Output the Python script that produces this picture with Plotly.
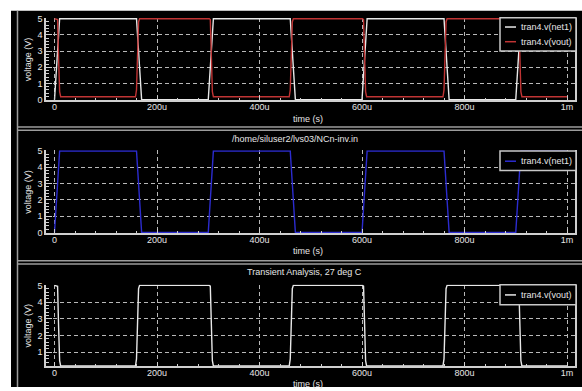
import numpy as np
import plotly.graph_objects as go
from plotly.subplots import make_subplots

# ---------------- data (time in microseconds, voltage in V) ----------------
net1_t_us = [0, 10, 160, 170, 300, 310, 460, 470, 600, 610, 760, 770, 900, 910, 1000]
net1_v = [0, 5, 5, 0, 0, 5, 5, 0, 0, 5, 5, 0, 0, 5, 5]

vout_t_us = [0, 6, 8, 10, 12,
             158, 160, 162, 164, 166,
             302, 304, 306, 308, 310,
             458, 460, 462, 464, 466,
             601, 603, 605, 607, 609,
             758, 760, 762, 764, 766,
             904, 906, 908, 910, 912, 1000]
vout_v = [5, 4.95, 2.5, 0.5, 0.18,
          0.18, 0.6, 2.6, 4.8, 5,
          5, 4.95, 2.5, 0.5, 0.18,
          0.18, 0.6, 2.6, 4.8, 5,
          5, 4.95, 2.5, 0.5, 0.18,
          0.18, 0.6, 2.6, 4.8, 5,
          5, 4.95, 2.5, 0.5, 0.18, 0.18]

x_tick_us = [0, 200, 400, 600, 800, 1000]
x_tick_text = ["0", "200u", "400u", "600u", "800u", "1m"]
x_minor_us = list(range(0, 1001, 40))
y_ticks_full = [0, 1, 2, 3, 4, 5]
y_ticks_p3 = [1, 2, 3, 4, 5]

series_names = ["tran4.v(net1)", "tran4.v(vout)"]
panel_titles = ["", "/home/siluser2/lvs03/NCn-inv.in", "Transient Analysis, 27 deg C"]
x_title = "time (s)"
y_title = "voltage (V)"

# ---------------- layout helpers ----------------
W, H = 582, 391
def fx(px):
    return px / W
def fy(py):
    return 1 - py / H

FONT = "Liberation Sans, Arial, sans-serif"
TXT = "#e6e6e6"
AXC = "#cfcfcf"
GRIDC = "#b8b8b8"
FRAME = "#9c9c9c"
WHITE_LINE = "#e8e8e8"
RED = "#c03434"
BLUE = "#2c2cd0"

net1_t = np.array(net1_t_us) * 1e-6
vout_t = np.array(vout_t_us) * 1e-6

fig = make_subplots(rows=3, cols=1)

fig.add_trace(go.Scatter(x=net1_t, y=net1_v, mode="lines", name=series_names[0],
                         line=dict(color=WHITE_LINE, width=1.4), showlegend=False), row=1, col=1)
fig.add_trace(go.Scatter(x=vout_t, y=vout_v, mode="lines", name=series_names[1],
                         line=dict(color=RED, width=1.4), showlegend=False), row=1, col=1)
fig.add_trace(go.Scatter(x=net1_t, y=net1_v, mode="lines", name=series_names[0],
                         line=dict(color=BLUE, width=1.4), showlegend=False), row=2, col=1)
fig.add_trace(go.Scatter(x=vout_t, y=vout_v, mode="lines", name=series_names[1],
                         line=dict(color=WHITE_LINE, width=1.4), showlegend=False), row=3, col=1)

xdom = [fx(46), fx(575)]
ydoms = [(14.2, 98.5), (149.2, 234.1), (286.4, 370.0)]
yranges = [[-0.05, 5.05], [-0.05, 5.05], [0.15, 5.05]]
yticks = [y_ticks_full, y_ticks_full, y_ticks_p3]
xrange_ = [-16.6e-6, 1015.6e-6]

for i in range(3):
    xa = "xaxis" if i == 0 else f"xaxis{i+1}"
    ya = "yaxis" if i == 0 else f"yaxis{i+1}"
    top, bot = ydoms[i]
    fig.update_layout({
        xa: dict(domain=xdom, range=xrange_, tickmode="array",
                 tickvals=[v * 1e-6 for v in x_tick_us], ticktext=x_tick_text,
                 ticks="inside", ticklen=5, tickwidth=1, tickcolor=AXC,
                 showline=True, linecolor=AXC, linewidth=1.5, mirror=False,
                 showgrid=True, gridcolor=GRIDC, gridwidth=1, griddash="4px,3px",
                 zeroline=False, ticklabelstandoff=-3,
                 tickfont=dict(family=FONT, size=9, color=TXT),
                 minor=dict(tickmode="array", tickvals=[v * 1e-6 for v in x_minor_us],
                            ticks="inside", ticklen=3, tickcolor=AXC, showgrid=False)),
        ya: dict(domain=[fy(bot), fy(top)], range=yranges[i], tickmode="array",
                 tickvals=yticks[i], ticktext=[str(v) for v in yticks[i]],
                 ticks="inside", ticklen=6, tickwidth=1, tickcolor=AXC,
                 showline=True, linecolor=AXC, linewidth=1.5, mirror=True,
                 showgrid=True, gridcolor=GRIDC, gridwidth=1, griddash="4px,3px",
                 zeroline=False,
                 tickfont=dict(family=FONT, size=9, color=TXT),
                 minor=dict(dtick=0.2, tick0=0, ticks="inside", ticklen=3,
                            tickcolor=AXC, showgrid=False)),
    })

shapes = []
# black canvas & frame lines
shapes.append(dict(type="rect", xref="paper", yref="paper", x0=fx(11), x1=1.0,
                   y0=0, y1=fy(7), fillcolor="black", line=dict(width=0), layer="below"))
shapes.append(dict(type="line", xref="paper", yref="paper", x0=fx(17.5), x1=fx(17.5),
                   y0=0, y1=fy(7), line=dict(color=FRAME, width=1.5), layer="below"))
for py in (125.5, 129, 262, 265.5):
    shapes.append(dict(type="line", xref="paper", yref="paper", x0=fx(17.5), x1=1.0,
                       y0=fy(py), y1=fy(py), line=dict(color=FRAME, width=1.5), layer="below"))

annotations = []
def text(px, py, s, angle=0, anchor="center", size=9):
    annotations.append(dict(x=fx(px), y=fy(py), xref="paper", yref="paper", text=s,
                            showarrow=False, xanchor=anchor, yanchor="middle",
                            textangle=angle, font=dict(family=FONT, size=size, color=TXT)))

for i in range(3):
    top, bot = ydoms[i]
    text(28, (top + bot) / 2, y_title, angle=-90)
text(308, 117, x_title)
text(308, 252.5, x_title)
text(308, 388, x_title)
text(295, 137.7, panel_titles[1])
text(304, 274, panel_titles[2])

# legends (drawn manually to match compact style)
def legend_box(y0, y1, entries):
    shapes.append(dict(type="rect", xref="paper", yref="paper", x0=fx(500), x1=fx(576),
                       y0=fy(y1), y1=fy(y0), fillcolor="black",
                       line=dict(color="#c8c8c8", width=1.5), layer="above"))
    for name, color, py in entries:
        shapes.append(dict(type="line", xref="paper", yref="paper", x0=fx(505), x1=fx(516),
                           y0=fy(py), y1=fy(py), line=dict(color=color, width=1.5), layer="above"))
        text(519, py, name, anchor="left")

legend_box(14, 48, [(series_names[0], WHITE_LINE, 23.5), (series_names[1], RED, 38.5)])
legend_box(150, 170, [(series_names[0], BLUE, 160.5)])
legend_box(286.5, 307, [(series_names[1], WHITE_LINE, 297)])

fig.update_layout(width=W, height=H, margin=dict(l=0, r=0, t=0, b=0),
                  paper_bgcolor="white", plot_bgcolor="black",
                  shapes=shapes, annotations=annotations, showlegend=False)

fig.write_html("out.html")
